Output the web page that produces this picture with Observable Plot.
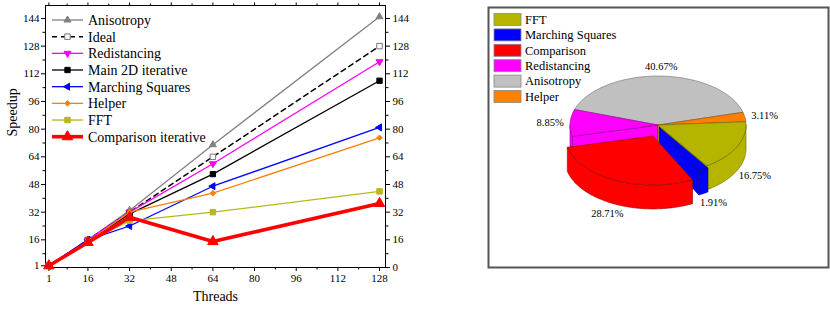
<!DOCTYPE html>
<html>
<head>
<meta charset="utf-8">
<script src="https://cdn.jsdelivr.net/npm/d3@7"></script>
<script src="https://cdn.jsdelivr.net/npm/@observablehq/plot@0.6"></script>
<style>
  html, body { margin: 0; padding: 0; background: #fff; }
  #wrap { display: flex; width: 830px; height: 310px; }
  #wrap > div { width: 415px; height: 310px; }
  svg { display: block; }
  svg text { font-family: 'Liberation Serif', 'DejaVu Serif', serif; }
</style>
</head>
<body>
<div id="wrap"><div id="left"></div><div id="right"></div></div>
<script>
// ---------- Data: speedup chart ----------
const threads = [1, 16, 32, 64, 128];
const seriesNames = ["Anisotropy", "Ideal", "Redistancing", "Main 2D iterative", "Marching Squares", "Helper", "FFT", "Comparison iterative"];
const anisotropy = [1, 16, 33, 71, 145];
const ideal = [1, 16, 32, 64, 128];
const redistancing = [1, 16, 32, 60, 119];
const main2d = [1, 15, 31, 54, 108];
const marchingSquares = [1, 16, 24, 47, 81];
const helper = [1, 15, 32, 43, 75];
const fft = [1, 15, 27, 32, 44];
const comparison = [1, 14.5, 29, 15, 37];
const seriesValues = [anisotropy, ideal, redistancing, main2d, marchingSquares, helper, fft, comparison];

const xTicks = [1, 16, 32, 48, 64, 80, 96, 112, 128];
const xMinor = [8, 24, 40, 56, 72, 88, 104, 120];
const yTicksLeft = [1, 16, 32, 48, 64, 80, 96, 112, 128, 144];
const yTicksRight = [0, 16, 32, 48, 64, 80, 96, 112, 128, 144];
const yMinor = [8, 24, 40, 56, 72, 88, 104, 120, 136];

// ---------- Data: time share pie ----------
const pieNames = ["FFT", "Marching Squares", "Comparison", "Redistancing", "Anisotropy", "Helper"];
const pieValues = [16.75, 1.91, 28.71, 8.85, 40.67, 3.11];

// ---------- Styles ----------
const seriesStyle = [
  {color: "#808080", symbol: "triangle", rotate: 0, r: 2.6, fill: "#808080", stroke: "#808080", width: 1.3, dash: null},
  {color: "#000000", symbol: "square", rotate: 0, r: 3.1, fill: "#ffffff", stroke: "#777777", width: 1.5, dash: "5,4"},
  {color: "#ff00ff", symbol: "triangle", rotate: 180, r: 2.6, fill: "#ff00ff", stroke: "#ff00ff", width: 1.3, dash: null},
  {color: "#000000", symbol: "square", rotate: 0, r: 3.0, fill: "#000000", stroke: "#000000", width: 1.3, dash: null},
  {color: "#0000ff", symbol: "triangle", rotate: -90, r: 2.6, fill: "#0000ff", stroke: "#0000ff", width: 1.3, dash: null},
  {color: "#ff8000", symbol: "diamond2", rotate: 0, r: 2.5, fill: "#ff8000", stroke: "#ff8000", width: 1.3, dash: null},
  {color: "#b8b81c", symbol: "square", rotate: 0, r: 3.1, fill: "#b8b81c", stroke: "#b8b81c", width: 1.3, dash: null},
  {color: "#ff0000", symbol: "triangle", rotate: 0, r: 3.9, fill: "#ff0000", stroke: "#ff0000", width: 3.6, dash: null}
];
const pieColors = ["#b5b500", "#0000ff", "#ff0000", "#ff00ff", "#c0c0c0", "#ff8000"];
const pieExplode = [0, 2.5, 12, 0, 0, 0];
const FONT = "'Liberation Serif', 'DejaVu Serif', serif";

// Build long table for Plot
const table = [];
seriesNames.forEach((name, si) => {
  threads.forEach((t, ti) => table.push({series: name, si, threads: t, speedup: seriesValues[si][ti]}));
});

// ---------- Left chart ----------
const symbolMap = {triangle: d3.symbolTriangle, square: d3.symbolSquare, diamond2: d3.symbolDiamond2};

function lineLegend(index, scales, values, dimensions) {
  const g = d3.create("svg:g").attr("font-family", FONT).attr("font-size", 14).attr("text-anchor", "start");
  const x0 = dimensions.marginLeft + 7, x1 = x0 + 31, step = 16.67, y0 = dimensions.marginTop + 15;
  seriesNames.forEach((name, i) => {
    const s = seriesStyle[i], y = y0 + i * step;
    g.append("line").attr("x1", x0).attr("x2", x1).attr("y1", y).attr("y2", y)
      .attr("stroke", s.color).attr("stroke-width", s.width).attr("stroke-dasharray", s.dash);
    g.append("path").attr("d", d3.symbol(symbolMap[s.symbol], Math.PI * s.r * s.r)())
      .attr("transform", `translate(${(x0 + x1) / 2},${y}) rotate(${s.rotate})`)
      .attr("fill", s.fill).attr("stroke", s.stroke).attr("stroke-width", 1);
    g.append("text").attr("x", x1 + 5).attr("y", y).attr("dy", "0.35em").attr("fill", "#000")
      .attr("text-anchor", "start").text(name);
  });
  return g.node();
}

const marks = [];
seriesNames.forEach((name, si) => {
  const s = seriesStyle[si];
  const d = table.filter(r => r.si === si);
  marks.push(Plot.line(d, {x: "threads", y: "speedup", stroke: s.color, strokeWidth: s.width, strokeDasharray: s.dash}));
  marks.push(Plot.dot(d, {x: "threads", y: "speedup", symbol: s.symbol, r: s.r, fill: s.fill, stroke: s.stroke, strokeWidth: 1, rotate: s.rotate}));
});

const left = Plot.plot({
  width: 415, height: 310,
  marginLeft: 45, marginRight: 30, marginTop: 5, marginBottom: 43,
  style: {fontFamily: FONT, fontSize: "11px", color: "#000", background: "#fff"},
  x: {domain: [-0.3, 130.3]},
  y: {domain: [0, 151.5]},
  marks: [
    Plot.axisX({anchor: "bottom", ticks: xTicks, tickSize: 4, tickPadding: 3, label: null, fontSize: 11}),
    Plot.axisX({anchor: "bottom", ticks: xMinor, tickSize: 2.5, tickFormat: () => "", label: null}),
    Plot.axisX({anchor: "top", ticks: xTicks, tickSize: 3.5, tickFormat: () => "", label: null}),
    Plot.axisX({anchor: "top", ticks: xMinor, tickSize: 2.5, tickFormat: () => "", label: null}),
    Plot.axisY({anchor: "left", ticks: yTicksLeft, tickSize: 4, tickPadding: 2, label: null, fontSize: 11}),
    Plot.axisY({anchor: "left", ticks: yMinor, tickSize: 2.5, tickFormat: () => "", label: null}),
    Plot.axisY({anchor: "right", ticks: yTicksRight, tickSize: 4, tickPadding: 3, label: null, fontSize: 11}),
    Plot.axisY({anchor: "right", ticks: yMinor, tickSize: 2.5, tickFormat: () => "", label: null}),
    Plot.frame({stroke: "#000", strokeWidth: 1}),
    ...marks,
    lineLegend,
    Plot.text(["Threads"], {frameAnchor: "bottom", dy: 33, text: d => d, fontSize: 14, fill: "#000"}),
    Plot.text(["Speedup"], {frameAnchor: "left", dx: -33, rotate: -90, text: d => d, fontSize: 14, fill: "#000"})
  ]
});
document.getElementById("left").append(left);

// ---------- Right chart: 3D pie ----------
function pie3d(index, scales, values, dimensions) {
  const g = d3.create("svg:g");
  const cx = scales.x(0.5), cy = scales.y(0.546);
  const rx = 88, ry = 49, depth = 24;
  const total = d3.sum(pieValues);
  const startAngle = 3.9;
  const slices = [];
  let a = startAngle;
  pieValues.forEach((v, i) => {
    const sweep = v / total * 360;
    const b = a - sweep;
    const mid = (a + b) / 2;
    const e = pieExplode[i];
    const m = mid * Math.PI / 180;
    slices.push({i, a, b, mid, ox: e * Math.cos(m), oy: -e * Math.sin(m)});
    a = b;
  });
  const P = (th, s, dy = 0) => {
    const r = th * Math.PI / 180;
    return [cx + s.ox + rx * Math.cos(r), cy + s.oy - ry * Math.sin(r) + dy];
  };
  const arcPts = (s, from, to, dy) => {
    const n = Math.max(2, Math.ceil(Math.abs(to - from)));
    return d3.range(n + 1).map(k => P(from + (to - from) * k / n, s, dy));
  };
  const poly = pts => "M" + pts.map(p => p[0].toFixed(2) + "," + p[1].toFixed(2)).join("L") + "Z";
  const order = slices.slice().sort((p, q) => Math.sin(q.mid * Math.PI / 180) - Math.sin(p.mid * Math.PI / 180));
  const n = slices.length;
  order.forEach(s => {
    const fill = pieColors[s.i];
    const stroke = d3.color(fill).darker(1.6).formatHex();
    const add = d => g.append("path").attr("d", d).attr("fill", fill).attr("stroke", stroke)
      .attr("stroke-width", 0.6).attr("stroke-linejoin", "round");
    const C = [cx + s.ox, cy + s.oy], Cd = [C[0], C[1] + depth];
    const prev = slices[(s.i - 1 + n) % n], next = slices[(s.i + 1) % n];
    if (pieExplode[prev.i] !== pieExplode[s.i] && Math.cos(s.a * Math.PI / 180) < 0)
      add(poly([C, P(s.a, s), P(s.a, s, depth), Cd]));
    if (pieExplode[next.i] !== pieExplode[s.i] && Math.cos(s.b * Math.PI / 180) > 0)
      add(poly([C, P(s.b, s), P(s.b, s, depth), Cd]));
    [[-180, 0], [-540, -360]].forEach(([lo, hi]) => {
      const l = Math.max(lo, s.b), h = Math.min(hi, s.a);
      if (h > l) add(poly([...arcPts(s, l, h, 0), ...arcPts(s, h, l, depth)]));
    });
    add(poly([C, ...arcPts(s, s.a, s.b, 0)]));
  });
  const lab = g.append("g").attr("font-family", FONT).attr("font-size", 10.5).attr("fill", "#000");
  slices.forEach(s => {
    const m = s.mid * Math.PI / 180;
    const x = cx + s.ox + (rx + 20) * Math.cos(m);
    const y = cy + s.oy - (ry + 10) * Math.sin(m) + (Math.sin(m) < 0 ? depth : 0);
    lab.append("text").attr("x", x).attr("y", y).attr("dy", "0.35em").attr("text-anchor", "middle")
      .text(pieValues[s.i].toFixed(2) + "%");
  });
  return g.node();
}

function pieLegend(index, scales, values, dimensions) {
  const g = d3.create("svg:g").attr("font-family", FONT).attr("font-size", 12.5).attr("text-anchor", "start");
  const x0 = dimensions.marginLeft + 6, y0 = dimensions.marginTop + 12.5, step = 15.4;
  pieNames.forEach((name, i) => {
    const y = y0 + i * step;
    g.append("rect").attr("x", x0).attr("y", y - 6).attr("width", 27).attr("height", 12)
      .attr("fill", pieColors[i]).attr("stroke", "#888").attr("stroke-width", 0.8);
    g.append("text").attr("x", x0 + 31).attr("y", y).attr("dy", "0.35em").attr("fill", "#000")
      .attr("text-anchor", "start").text(name);
  });
  return g.node();
}

const right = Plot.plot({
  width: 415, height: 310,
  marginLeft: 73, marginRight: 2, marginTop: 7, marginBottom: 43,
  style: {fontFamily: FONT, background: "#fff"},
  x: {domain: [0, 1], axis: null},
  y: {domain: [0, 1], axis: null},
  marks: [
    Plot.frame({stroke: "#555", strokeWidth: 2}),
    pie3d,
    pieLegend
  ]
});
document.getElementById("right").append(right);
</script>
</body>
</html>
